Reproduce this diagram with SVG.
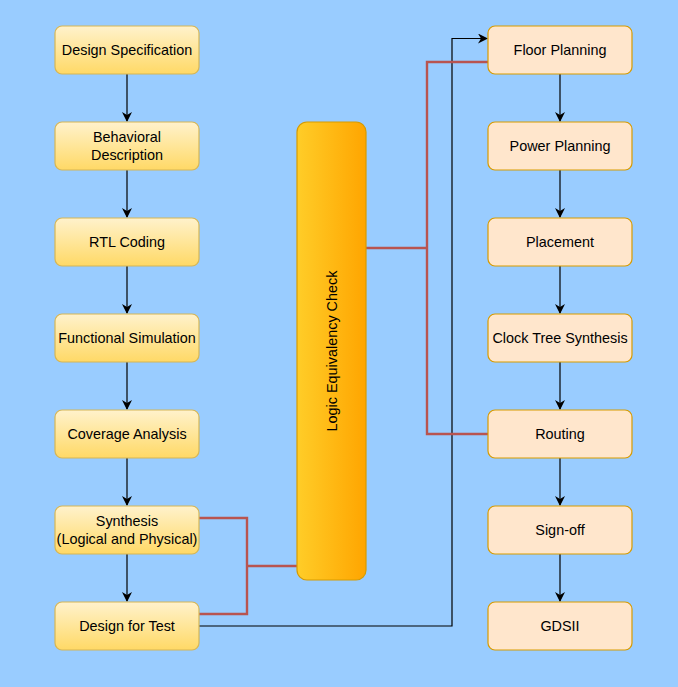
<svg xmlns="http://www.w3.org/2000/svg" width="678" height="687" viewBox="0 0 678 687">
<defs>
<linearGradient id="gl" x1="0" y1="0" x2="0" y2="1"><stop offset="0" stop-color="#fff2cc"/><stop offset="1" stop-color="#ffd966"/></linearGradient>
<linearGradient id="gb" x1="0" y1="0" x2="1" y2="0"><stop offset="0" stop-color="#ffcd28"/><stop offset="1" stop-color="#ffa500"/></linearGradient>
<marker id="ar" viewBox="0 0 10 10" refX="9" refY="5" markerWidth="10" markerHeight="10" markerUnits="userSpaceOnUse" orient="auto"><path d="M0,0 L10,5 L0,10 L3,5 Z" fill="#000"/></marker>
</defs>
<style>
.l{fill:url(#gl);stroke:#d6b656;stroke-width:1.2}
.r{fill:#ffe6cc;stroke:#d79b00;stroke-width:1.2}
.b{fill:url(#gb);stroke:#d79b00;stroke-width:1.2}
text{font-family:"Liberation Sans",Arial,sans-serif;font-size:14.4px;fill:#000;text-anchor:middle}
.k{fill:none;stroke:#000;stroke-width:1.2}
.red{fill:none;stroke:#b85450;stroke-width:2.4}
</style>
<rect width="678" height="687" fill="#99ccff"/>
<g id="connectors">
<path class="k" d="M127,74V121" marker-end="url(#ar)"/>
<path class="k" d="M127,170V217" marker-end="url(#ar)"/>
<path class="k" d="M127,266V313" marker-end="url(#ar)"/>
<path class="k" d="M127,362V409" marker-end="url(#ar)"/>
<path class="k" d="M127,458V505" marker-end="url(#ar)"/>
<path class="k" d="M127,554V601" marker-end="url(#ar)"/>
<path class="k" d="M560,74V121" marker-end="url(#ar)"/>
<path class="k" d="M560,170V217" marker-end="url(#ar)"/>
<path class="k" d="M560,266V313" marker-end="url(#ar)"/>
<path class="k" d="M560,362V409" marker-end="url(#ar)"/>
<path class="k" d="M560,458V505" marker-end="url(#ar)"/>
<path class="k" d="M560,554V601" marker-end="url(#ar)"/>
<path class="k" d="M199,626H452V38.5H487" marker-end="url(#ar)"/>
<path class="red" d="M199,518H247V614H199M247,566H297"/>
<path class="red" d="M366,248H427V62H488M427,248V434H488"/>
</g>
<g id="design-specification"><rect class="l" x="55" y="26" width="144" height="48" rx="7"/><text x="127" y="55">Design Specification</text></g>
<g id="behavioral-description"><rect class="l" x="55" y="122" width="144" height="48" rx="7"/><text x="127" y="142">Behavioral</text><text x="127" y="160">Description</text></g>
<g id="rtl-coding"><rect class="l" x="55" y="218" width="144" height="48" rx="7"/><text x="127" y="247">RTL Coding</text></g>
<g id="functional-simulation"><rect class="l" x="55" y="314" width="144" height="48" rx="7"/><text x="127" y="343">Functional Simulation</text></g>
<g id="coverage-analysis"><rect class="l" x="55" y="410" width="144" height="48" rx="7"/><text x="127" y="439">Coverage Analysis</text></g>
<g id="synthesis"><rect class="l" x="55" y="506" width="144" height="48" rx="7"/><text x="127" y="526">Synthesis</text><text x="127" y="544">(Logical and Physical)</text></g>
<g id="design-for-test"><rect class="l" x="55" y="602" width="144" height="48" rx="7"/><text x="127" y="631">Design for Test</text></g>
<g id="logic-equivalency-check"><rect class="b" x="297" y="122" width="69" height="458" rx="10"/><text transform="translate(336.5,351) rotate(-90)">Logic Equivalency Check</text></g>
<g id="floor-planning"><rect class="r" x="488" y="26" width="144" height="48" rx="7"/><text x="560" y="55">Floor Planning</text></g>
<g id="power-planning"><rect class="r" x="488" y="122" width="144" height="48" rx="7"/><text x="560" y="151">Power Planning</text></g>
<g id="placement"><rect class="r" x="488" y="218" width="144" height="48" rx="7"/><text x="560" y="247">Placement</text></g>
<g id="clock-tree-synthesis"><rect class="r" x="488" y="314" width="144" height="48" rx="7"/><text x="560" y="343">Clock Tree Synthesis</text></g>
<g id="routing"><rect class="r" x="488" y="410" width="144" height="48" rx="7"/><text x="560" y="439">Routing</text></g>
<g id="sign-off"><rect class="r" x="488" y="506" width="144" height="48" rx="7"/><text x="560" y="535">Sign-off</text></g>
<g id="gdsii"><rect class="r" x="488" y="602" width="144" height="48" rx="7"/><text x="560" y="631">GDSII</text></g>
</svg>
